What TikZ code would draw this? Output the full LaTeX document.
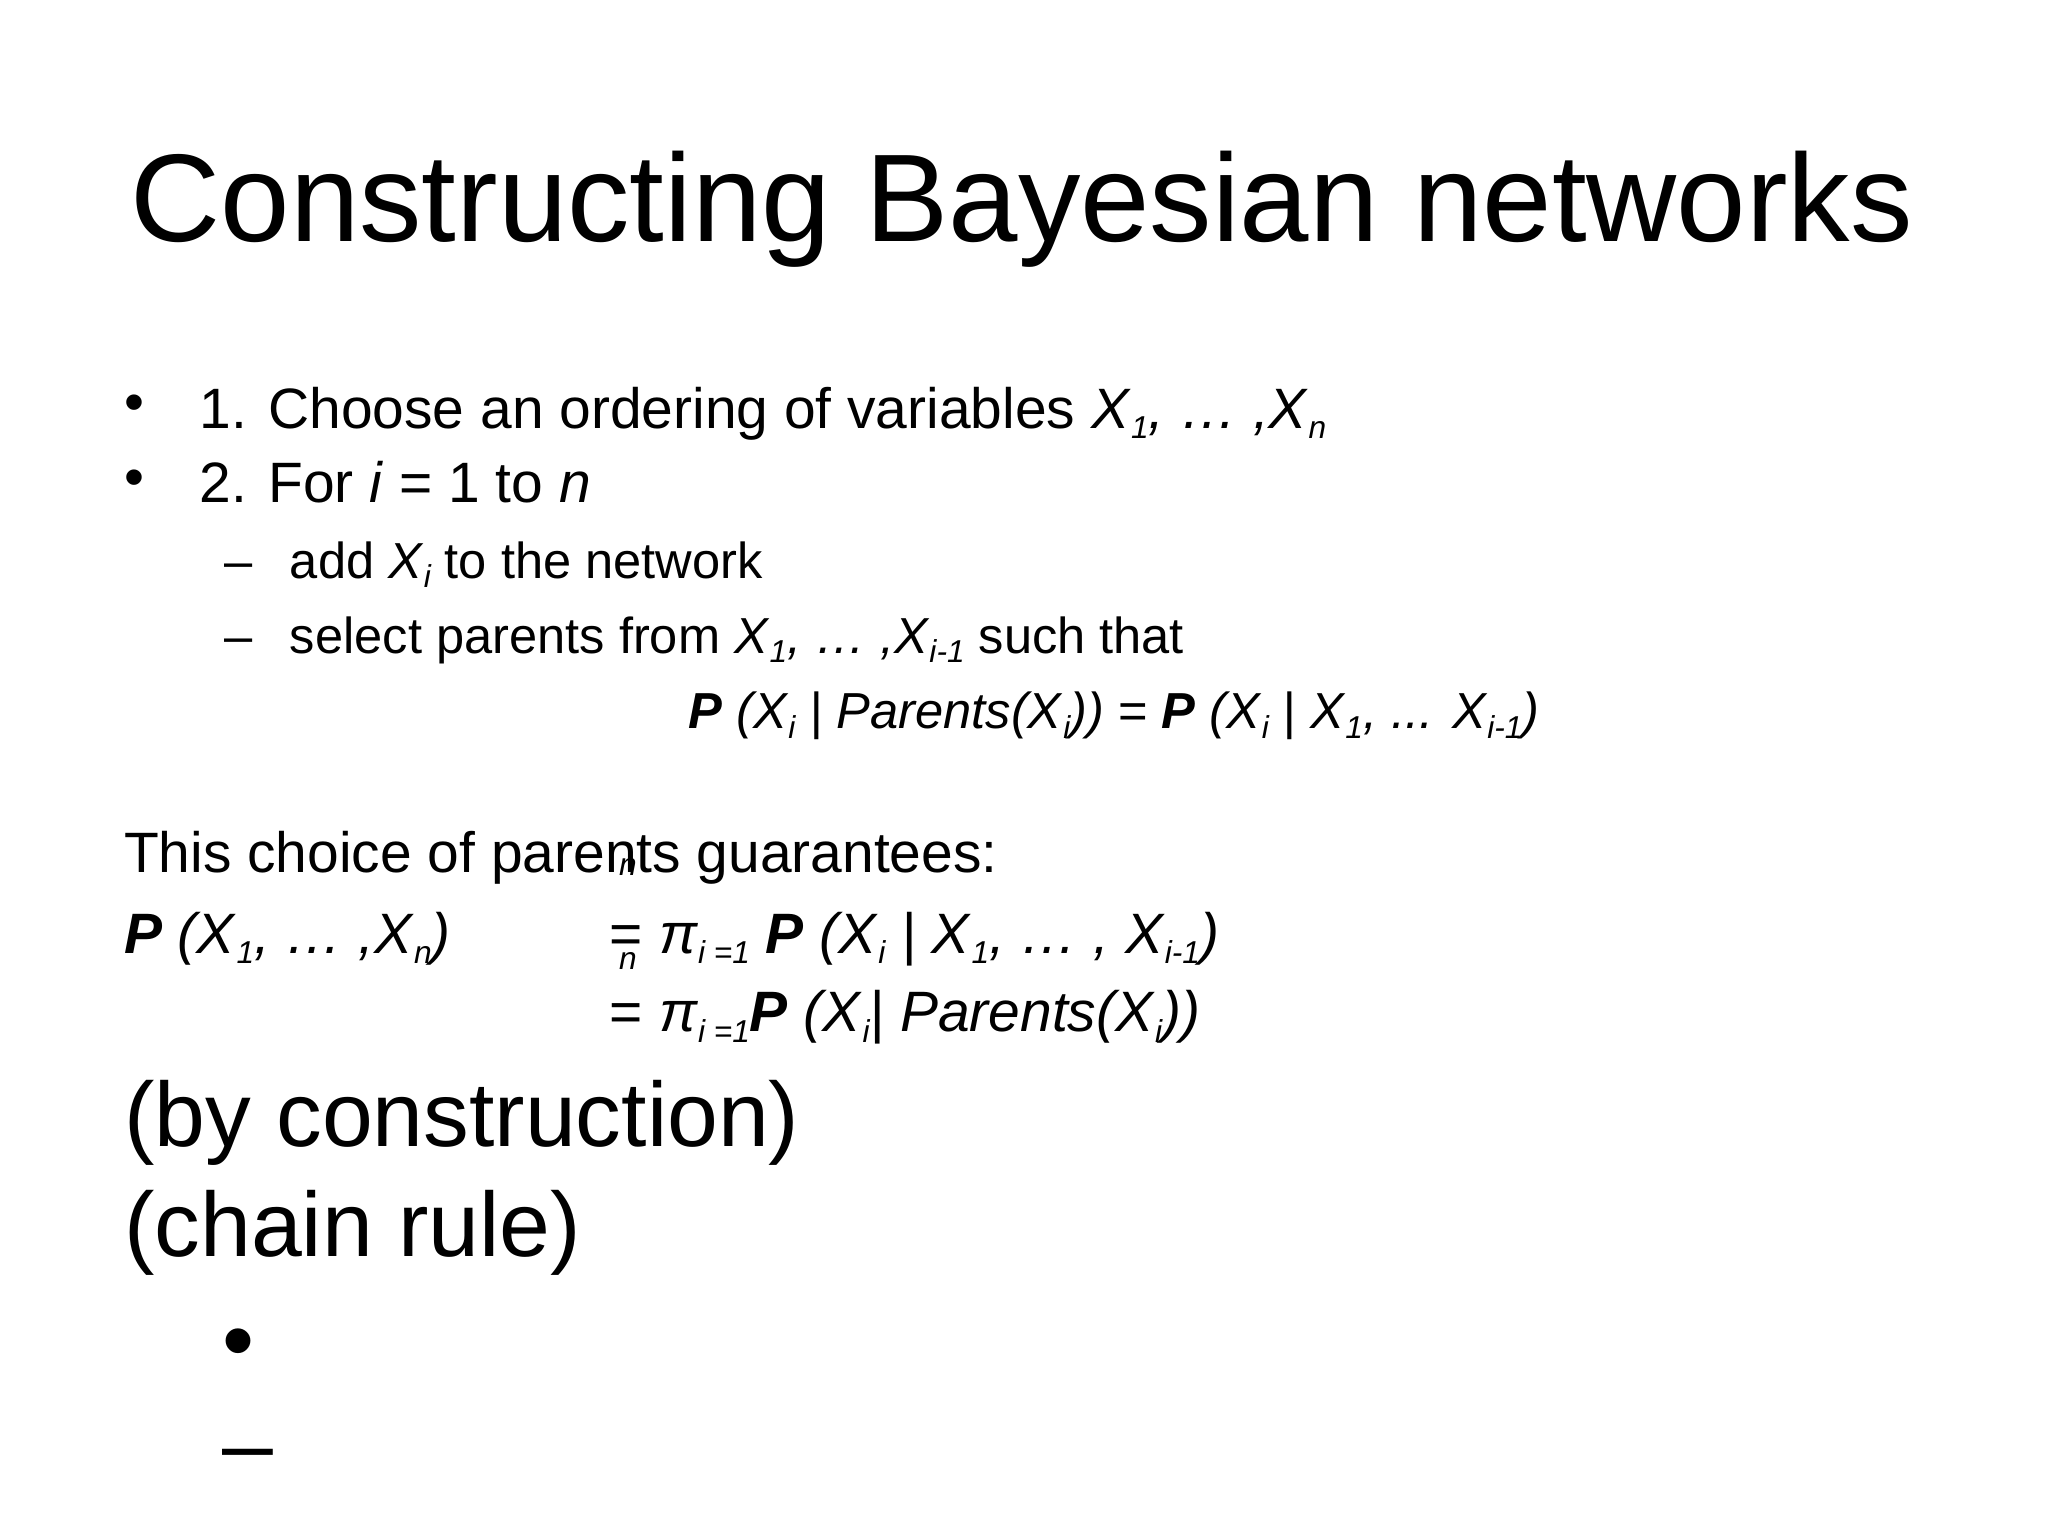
\documentclass[tikz,border=0pt]{standalone}
\usepackage{fontspec}
\setmainfont{Liberation Sans}
\newcommand{\sbs}[1]{\raisebox{-0.35ex}{\fontsize{9}{9}\selectfont\itshape #1}}
\begin{document}
\begin{tikzpicture}[x=0.01306cm,y=-0.01306cm,
  txt/.style={anchor=base west,inner sep=0pt,outer sep=0pt},
  big/.style={txt,font=\fontsize{16.2}{18}\selectfont},
  mid/.style={txt,font=\fontsize{14.4}{16}\selectfont},
  huge/.style={txt,font=\fontsize{26}{30}\selectfont}]
\useasboundingbox (0,0) rectangle (1568,1176);
\node[txt,font=\fontsize{35.5}{40}\selectfont] (title) at (100,185) {Constructing Bayesian networks};
\node[big] (b1) at (95,323) {•};
\node[big] (l1) at (153,328) {1. Choose an ordering of variables \textit{X}\sbs{1}\textit{, … ,X}\sbs{n}};
\node[big] (b2) at (95,380) {•};
\node[big] (l2) at (153,385) {2. For \textit{i} = 1 to \textit{n}};
\node[mid] (d1) at (172,443) {–};
\node[mid] (s1) at (222,443) {add \textit{X}\sbs{i} to the network};
\node[mid] (d2) at (172,500) {–};
\node[mid] (s2) at (222,500) {select parents from \textit{X}\sbs{1}\textit{, … ,X}\sbs{i-1} such that};
\node[mid] (f1) at (527,558) {\textbf{\textit{P}} \textit{(X}\sbs{i} \textit{| Parents(X}\sbs{i}\textit{))} = \textbf{\textit{P}} \textit{(X}\sbs{i} \textit{| X}\sbs{1}\textit{, ... X}\sbs{i-1}\textit{)}};
\node[big] (g) at (95,668) {This choice of parents guarantees:};
\node[txt,font=\fontsize{9}{9}\selectfont\itshape] (n1) at (474,670) {n};
\node[big] (p) at (95,730) {\textbf{\textit{P}} \textit{(X}\sbs{1}\textit{, … ,X}\sbs{n}\textit{)}};
\node[big] (e1) at (467,730) {= \textit{π}\sbs{i =1} \textbf{\textit{P}} \textit{(X}\sbs{i} \textit{| X}\sbs{1}\textit{, … , X}\sbs{i-1}\textit{)}};
\node[txt,font=\fontsize{9}{9}\selectfont\itshape] (n2) at (474,742) {n};
\node[big] (e2) at (467,790) {= \textit{π}\sbs{i =1}\textbf{\textit{P}} \textit{(X}\sbs{i}\textit{| Parents(X}\sbs{i}\textit{))}};
\node[huge] (c1) at (95,878) {(by construction)};
\node[huge] (c2) at (95,962) {(chain rule)};
\node[huge] (b3) at (170,1050) {•};
\node[huge] (d3) at (170,1130) {–};
\end{tikzpicture}
\end{document}
